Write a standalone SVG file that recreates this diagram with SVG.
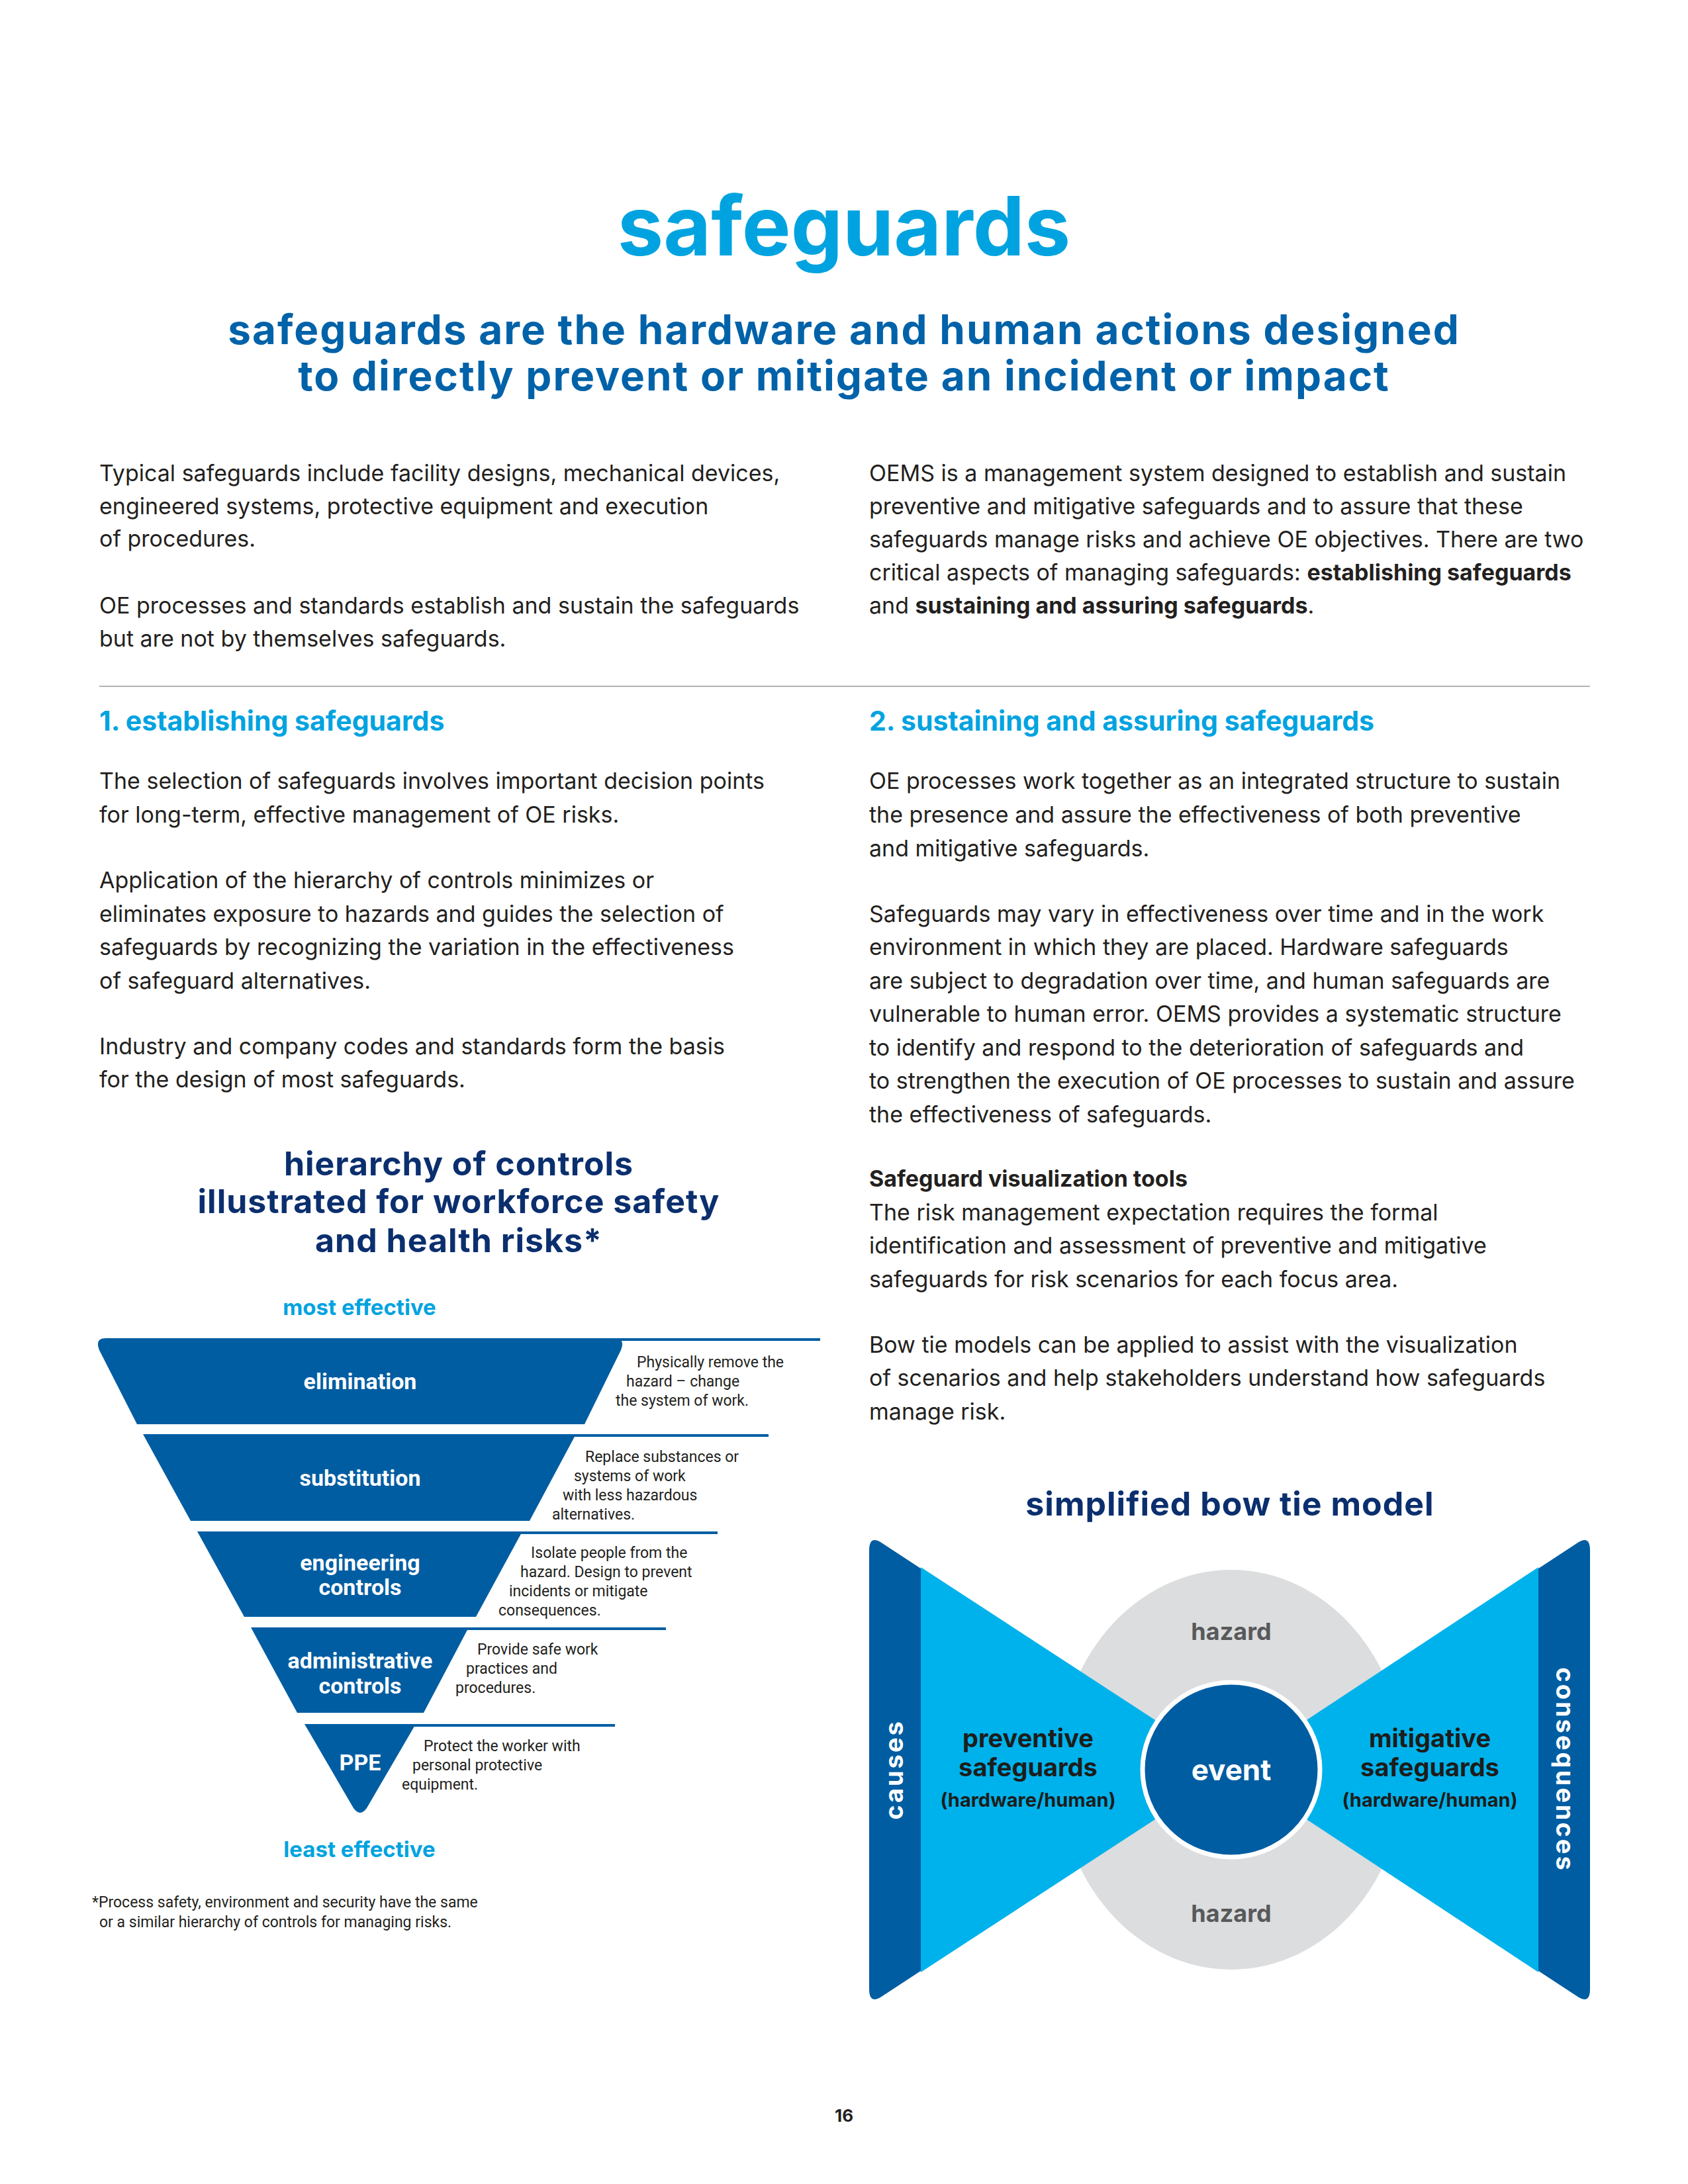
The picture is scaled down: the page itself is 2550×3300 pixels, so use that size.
<svg xmlns="http://www.w3.org/2000/svg" width="2550" height="3300" viewBox="0 0 2550 3300">
<style>
.b{font-family:Inter,"Open Sans",sans-serif;font-size:34px;fill:#231f20}
.bb{font-weight:700}
.h2{font-family:Inter,sans-serif;font-size:41px;font-weight:700;fill:#00a3e0}
.nv{font-family:Inter,sans-serif;font-weight:700;fill:#0b2f6e;text-anchor:middle}
.pl{font-family:Roboto,sans-serif;font-weight:700;font-size:34px;fill:#fff;text-anchor:middle}
.pd{font-family:Roboto,sans-serif;font-size:23px;fill:#231f20}
.band{fill:#005da2}
.ln{stroke:#005da2;stroke-width:4}
.bt{font-family:Inter,sans-serif;font-weight:700;fill:#1d1d1b;text-anchor:middle}
</style>
<rect width="2550" height="3300" fill="#fff"/>
<text x="1275" y="386" text-anchor="middle" font-family="Inter,sans-serif" font-weight="700" font-size="124" fill="#00a3e0">safeguards</text>
<g font-family="Inter,sans-serif" font-weight="700" font-size="62" fill="#0062a8" text-anchor="middle" letter-spacing="2">
<text x="1275" y="520">safeguards are the hardware and human actions designed</text>
<text x="1275" y="590">to directly prevent or mitigate an incident or impact</text>
</g>
<g class="b">
<text x="150" y="727">Typical safeguards include facility designs, mechanical devices,</text>
<text x="150" y="777">engineered systems, protective equipment and execution</text>
<text x="150" y="826">of procedures.</text>
<text x="150" y="927">OE processes and standards establish and sustain the safeguards</text>
<text x="150" y="977">but are not by themselves safeguards.</text>
<text x="1313" y="727">OEMS is a management system designed to establish and sustain</text>
<text x="1313" y="777">preventive and mitigative safeguards and to assure that these</text>
<text x="1313" y="827">safeguards manage risks and achieve OE objectives. There are two</text>
<text x="1313" y="877">critical aspects of managing safeguards: <tspan class="bb">establishing safeguards</tspan></text>
<text x="1313" y="927">and <tspan class="bb">sustaining and assuring safeguards</tspan>.</text>
</g>
<line x1="150" y1="1037" x2="2402" y2="1037" stroke="#b3b3b3" stroke-width="2"/>
<text class="h2" x="150" y="1104">1. establishing safeguards</text>
<text class="h2" x="1313" y="1104">2. sustaining and assuring safeguards</text>
<g class="b">
<text x="150" y="1192">The selection of safeguards involves important decision points</text>
<text x="150" y="1243">for long-term, effective management of OE risks.</text>
<text x="150" y="1342">Application of the hierarchy of controls minimizes or</text>
<text x="150" y="1393">eliminates exposure to hazards and guides the selection of</text>
<text x="150" y="1443">safeguards by recognizing the variation in the effectiveness</text>
<text x="150" y="1494">of safeguard alternatives.</text>
<text x="150" y="1593">Industry and company codes and standards form the basis</text>
<text x="150" y="1643">for the design of most safeguards.</text>
<text x="1313" y="1192">OE processes work together as an integrated structure to sustain</text>
<text x="1313" y="1243">the presence and assure the effectiveness of both preventive</text>
<text x="1313" y="1294">and mitigative safeguards.</text>
<text x="1313" y="1393">Safeguards may vary in effectiveness over time and in the work</text>
<text x="1313" y="1443">environment in which they are placed. Hardware safeguards</text>
<text x="1313" y="1494">are subject to degradation over time, and human safeguards are</text>
<text x="1313" y="1544">vulnerable to human error. OEMS provides a systematic structure</text>
<text x="1313" y="1595">to identify and respond to the deterioration of safeguards and</text>
<text x="1313" y="1645">to strengthen the execution of OE processes to sustain and assure</text>
<text x="1313" y="1696">the effectiveness of safeguards.</text>
<text x="1313" y="1793" class="bb">Safeguard visualization tools</text>
<text x="1313" y="1844">The risk management expectation requires the formal</text>
<text x="1313" y="1894">identification and assessment of preventive and mitigative</text>
<text x="1313" y="1945">safeguards for risk scenarios for each focus area.</text>
<text x="1313" y="2044">Bow tie models can be applied to assist with the visualization</text>
<text x="1313" y="2094">of scenarios and help stakeholders understand how safeguards</text>
<text x="1313" y="2145">manage risk.</text>
</g>
<g class="nv" font-size="50" letter-spacing="1">
<text x="693" y="1776">hierarchy of controls</text>
<text x="693" y="1833">illustrated for workforce safety</text>
<text x="693" y="1892">and health risks*</text>
</g>
<g font-family="Inter,sans-serif" font-weight="700" font-size="33" fill="#00a3e0" text-anchor="middle">
<text x="543" y="1987">most effective</text>
<text x="543" y="2806">least effective</text>
</g>
<g id="pyramid">
<g id="elimination">
<path class="band" d="M160,2022 L928,2022 Q945,2022 938,2040 L883,2152 L207,2152 L150,2040 Q143,2022 160,2022 Z"/>
<line class="ln" x1="928" y1="2024" x2="1239" y2="2024"/>
<text class="pl" x="544" y="2099">elimination</text>
<g class="pd"><text x="962" y="2066">Physically remove the</text><text x="946" y="2095">hazard – change</text><text x="930" y="2124">the system of work.</text></g>
</g>
<g id="substitution">
<path class="band" d="M216,2167 L870,2167 L800,2298 L288,2298 Z"/>
<line class="ln" x1="866" y1="2169" x2="1161" y2="2169"/>
<text class="pl" x="544" y="2245">substitution</text>
<g class="pd"><text x="884" y="2209">Replace substances or</text><text x="867" y="2238">systems of work</text><text x="850" y="2267">with less hazardous</text><text x="834" y="2296">alternatives.</text></g>
</g>
<g id="engineering">
<path class="band" d="M298,2314 L789,2314 L719,2443 L369,2443 Z"/>
<line class="ln" x1="785" y1="2316" x2="1084" y2="2316"/>
<text class="pl" x="544" y="2373">engineering</text><text class="pl" x="544" y="2410">controls</text>
<g class="pd"><text x="802" y="2354">Isolate people from the</text><text x="786" y="2383">hazard. Design to prevent</text><text x="769" y="2412">incidents or mitigate</text><text x="753" y="2441">consequences.</text></g>
</g>
<g id="administrative">
<path class="band" d="M379,2459 L708,2459 L640,2588 L449,2588 Z"/>
<line class="ln" x1="704" y1="2461" x2="1006" y2="2461"/>
<text class="pl" x="544" y="2521">administrative</text><text class="pl" x="544" y="2559">controls</text>
<g class="pd"><text x="721" y="2500">Provide safe work</text><text x="704" y="2529">practices and</text><text x="688" y="2558">procedures.</text></g>
</g>
<g id="ppe">
<path class="band" d="M460,2605 L628,2605 L554,2732 Q544,2746 534,2732 Z"/>
<line class="ln" x1="624" y1="2607" x2="929" y2="2607"/>
<text class="pl" x="544" y="2675">PPE</text>
<g class="pd"><text x="640" y="2646">Protect the worker with</text><text x="623" y="2675">personal protective</text><text x="607" y="2704">equipment.</text></g>
</g>
</g>
<g class="pd" font-family="Inter,sans-serif" font-size="22">
<text x="139" y="2882">*Process safety, environment and security have the same</text>
<text x="150" y="2912">or a similar hierarchy of controls for managing risks.</text>
</g>
<text class="nv" font-size="50" x="1858" y="2290" letter-spacing="1">simplified bow tie model</text>
<g id="bowtie">
<ellipse id="hazard" cx="1860" cy="2674" rx="262" ry="302" fill="#dcddde"/>
<path d="M1391,2368 L1860,2674 L1391,2980 Z" fill="#00b2ec"/>
<path d="M2324,2368 L1860,2674 L2324,2980 Z" fill="#00b2ec"/>
<path d="M1330,2330 L1391,2370 L1391,2978 L1330,3018 Q1313,3028 1313,3005 L1313,2343 Q1313,2320 1330,2330 Z" fill="#005da2"/>
<path d="M2385,2330 L2324,2370 L2324,2978 L2385,3018 Q2402,3028 2402,3005 L2402,2343 Q2402,2320 2385,2330 Z" fill="#005da2"/>
<ellipse id="event" cx="1860" cy="2674" rx="134" ry="132" fill="#005da2" stroke="#fff" stroke-width="7"/>
<g font-family="Inter,sans-serif" font-weight="700" font-size="36" fill="#58595b" text-anchor="middle">
<text x="1860" y="2478">hazard</text><text x="1860" y="2904">hazard</text>
</g>
<text x="1860" y="2690" font-family="Inter,sans-serif" font-weight="700" font-size="44" fill="#fff" text-anchor="middle">event</text>
<g class="bt" font-size="38">
<text x="1553" y="2640">preventive</text><text x="1553" y="2684">safeguards</text>
<text x="2160" y="2640">mitigative</text><text x="2160" y="2684">safeguards</text>
</g>
<g class="bt" font-size="29">
<text x="1553" y="2730">(hardware/human)</text><text x="2160" y="2730">(hardware/human)</text>
</g>
<g font-family="Inter,sans-serif" font-weight="700" font-size="38" fill="#fff" text-anchor="middle" letter-spacing="3">
<text transform="translate(1364,2674) rotate(-90)">causes</text>
<text transform="translate(2351,2674) rotate(90)">consequences</text>
</g>
</g>
<text x="1275" y="3206" text-anchor="middle" font-family="Inter,sans-serif" font-weight="700" font-size="26" fill="#231f20">16</text>
</svg>
